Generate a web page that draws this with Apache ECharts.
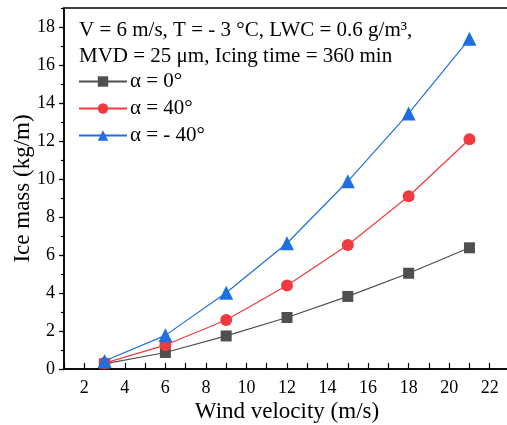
<!DOCTYPE html>
<html>
<head>
<meta charset="utf-8">
<script src="https://cdn.jsdelivr.net/npm/echarts@6/dist/echarts.min.js"></script>
<style>html,body{margin:0;padding:0;background:#fff}#c{width:507px;height:425px}</style>
</head>
<body>
<div id="c"></div>
<script>
var windVelocity = [3, 6, 9, 12, 15, 18, 21];
var iceAlpha0 = [0.27, 0.87, 1.74, 2.71, 3.82, 5.04, 6.38];
var iceAlpha40 = [0.31, 1.26, 2.58, 4.40, 6.53, 9.09, 12.09];
var iceAlphaNeg40 = [0.42, 1.77, 4.01, 6.62, 9.88, 13.45, 17.38];
var seriesNames = ['α = 0°', 'α = 40°', 'α = - 40°'];
var yTickLabels = [0, 2, 4, 6, 8, 10, 12, 14, 16, 18];
var xTickLabels = [2, 4, 6, 8, 10, 12, 14, 16, 18, 20, 22];
var noteLines = ['V = 6 m/s, T = - 3 °C, LWC = 0.6 g/m³,', 'MVD = 25 μm, Icing time = 360 min'];

var FONT = '"Liberation Serif", "Times New Roman", serif';
function pairs(xs, ys) { return xs.map(function (x, i) { return [x, ys[i]]; }); }

var chart = echarts.init(document.getElementById('c'), null, {renderer: 'canvas'});
chart.setOption({
  animation: false,
  textStyle: {fontFamily: FONT},
  grid: {left: 64, right: -3, top: 8, bottom: 56, containLabel: false, outerBoundsMode: 'none',
    show: true, borderColor: '#000', borderWidth: 1.5, backgroundColor: 'transparent'},
  legend: {
    orient: 'vertical', left: 78, top: 71, padding: 0, itemWidth: 48, itemHeight: 13, itemGap: 6,
    textStyle: {fontFamily: FONT, fontSize: 21, color: '#000', padding: [0, 0, 0, -2]},
    data: seriesNames
  },
  graphic: [{
    type: 'text', left: 79, top: 18,
    style: {text: noteLines.join('\n'), font: '21px ' + FONT, fill: '#000', lineHeight: 25.5}
  }],
  xAxis: {
    type: 'value', min: 1, max: 23, interval: 1,
    name: 'Wind velocity (m/s)', nameLocation: 'middle', nameGap: 31, nameMoveOverlap: false,
    nameTextStyle: {fontFamily: FONT, fontSize: 23, color: '#000'},
    axisLine: {lineStyle: {color: '#000', width: 1.5}},
    axisTick: {inside: true, length: 6, lineStyle: {color: '#000', width: 1.2}},
    axisLabel: {margin: 10, fontFamily: FONT, fontSize: 18, color: '#000',
      formatter: function (v) { return xTickLabels.indexOf(v) >= 0 ? String(v) : ''; }},
    splitLine: {show: false}
  },
  yAxis: [{
    type: 'value', min: 0, max: 19, interval: 2,
    name: 'Ice mass (kg/m)', nameLocation: 'middle', nameGap: 30, nameMoveOverlap: false,
    nameTextStyle: {fontFamily: FONT, fontSize: 23, color: '#000'},
    axisLine: {show: true, lineStyle: {color: '#000', width: 1.5}},
    axisTick: {show: true, inside: false, length: 5, lineStyle: {color: '#000', width: 1.2}, customValues: yTickLabels},
    axisLabel: {margin: 9, fontFamily: FONT, fontSize: 18, color: '#000', customValues: yTickLabels,
      formatter: function (v) { return yTickLabels.indexOf(v) >= 0 ? String(v) : ''; }},
    splitLine: {show: false}
  }, {
    type: 'value', min: 0, max: 19, interval: 1, position: 'left', offset: 0,
    axisLine: {show: false},
    axisTick: {show: true, inside: false, length: 3, lineStyle: {color: '#000', width: 1.2}},
    axisLabel: {show: false},
    splitLine: {show: false}
  }],
  series: [{
    name: seriesNames[0], type: 'line', data: pairs(windVelocity, iceAlpha0),
    symbol: 'rect', symbolSize: 11, color: '#4f4f4f',
    lineStyle: {width: 1.2, color: '#4f4f4f'}, itemStyle: {color: '#4f4f4f'}, z: 3
  }, {
    name: seriesNames[1], type: 'line', data: pairs(windVelocity, iceAlpha40),
    symbol: 'circle', symbolSize: 12, color: '#ef3a40',
    lineStyle: {width: 1.2, color: '#ef3a40'}, itemStyle: {color: '#ef3a40'}, z: 4
  }, {
    name: seriesNames[2], type: 'line', data: pairs(windVelocity, iceAlphaNeg40),
    symbol: 'triangle', symbolSize: 14, color: '#1e6fe0',
    lineStyle: {width: 1.2, color: '#1e6fe0'}, itemStyle: {color: '#1e6fe0'}, z: 5
  }]
});
</script>
</body>
</html>
